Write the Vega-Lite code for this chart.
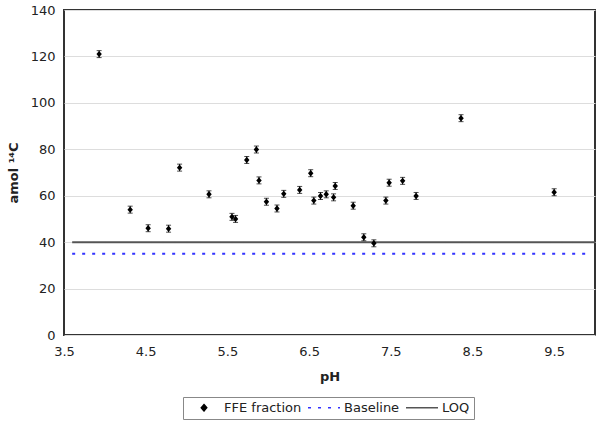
{
  "$schema": "https://vega.github.io/schema/vega-lite/v6.json",
  "width": 531,
  "height": 325,
  "autosize": {"type": "none"},
  "padding": {"left": 64, "top": 10, "right": 6, "bottom": 89},
  "background": "white",
  "datasets": {
    "pts": [
      {"pH": 3.93, "amol": 121.0, "err": 1.5, "series": "FFE fraction"},
      {"pH": 4.31, "amol": 54.0, "err": 1.5, "series": "FFE fraction"},
      {"pH": 4.53, "amol": 46.0, "err": 1.5, "series": "FFE fraction"},
      {"pH": 4.78, "amol": 45.8, "err": 1.5, "series": "FFE fraction"},
      {"pH": 4.915, "amol": 72.1, "err": 1.5, "series": "FFE fraction"},
      {"pH": 5.275, "amol": 60.6, "err": 1.5, "series": "FFE fraction"},
      {"pH": 5.556, "amol": 50.9, "err": 1.5, "series": "FFE fraction"},
      {"pH": 5.60, "amol": 50.0, "err": 1.5, "series": "FFE fraction"},
      {"pH": 5.737, "amol": 75.4, "err": 1.5, "series": "FFE fraction"},
      {"pH": 5.855, "amol": 79.9, "err": 1.5, "series": "FFE fraction"},
      {"pH": 5.887, "amol": 66.6, "err": 1.5, "series": "FFE fraction"},
      {"pH": 5.978, "amol": 57.4, "err": 1.5, "series": "FFE fraction"},
      {"pH": 6.107, "amol": 54.5, "err": 1.5, "series": "FFE fraction"},
      {"pH": 6.19, "amol": 60.8, "err": 1.5, "series": "FFE fraction"},
      {"pH": 6.385, "amol": 62.5, "err": 1.5, "series": "FFE fraction"},
      {"pH": 6.52, "amol": 69.7, "err": 1.5, "series": "FFE fraction"},
      {"pH": 6.558, "amol": 57.9, "err": 1.5, "series": "FFE fraction"},
      {"pH": 6.64, "amol": 59.9, "err": 1.5, "series": "FFE fraction"},
      {"pH": 6.71, "amol": 60.6, "err": 1.5, "series": "FFE fraction"},
      {"pH": 6.80, "amol": 59.3, "err": 1.5, "series": "FFE fraction"},
      {"pH": 6.82, "amol": 64.2, "err": 1.5, "series": "FFE fraction"},
      {"pH": 7.04, "amol": 55.7, "err": 1.5, "series": "FFE fraction"},
      {"pH": 7.17, "amol": 42.1, "err": 1.5, "series": "FFE fraction"},
      {"pH": 7.293, "amol": 39.5, "err": 1.5, "series": "FFE fraction"},
      {"pH": 7.44, "amol": 57.9, "err": 1.5, "series": "FFE fraction"},
      {"pH": 7.48, "amol": 65.6, "err": 1.5, "series": "FFE fraction"},
      {"pH": 7.645, "amol": 66.4, "err": 1.5, "series": "FFE fraction"},
      {"pH": 7.81, "amol": 59.9, "err": 1.5, "series": "FFE fraction"},
      {"pH": 8.36, "amol": 93.4, "err": 1.5, "series": "FFE fraction"},
      {"pH": 9.50, "amol": 61.5, "err": 1.5, "series": "FFE fraction"}
    ],
    "lines": [
      {"series": "Baseline", "x1": 3.6, "x2": 9.9, "y": 35},
      {"series": "LOQ", "x1": 3.6, "x2": 10.0, "y": 40}
    ]
  },
  "layer": [
    {
      "data": {"name": "lines"},
      "mark": {"type": "rule", "strokeWidth": 2},
      "encoding": {
        "x": {"field": "x1", "type": "quantitative"},
        "x2": {"field": "x2"},
        "y": {"field": "y", "type": "quantitative"},
        "color": {"field": "series", "type": "nominal", "title": null,
          "scale": {"domain": ["FFE fraction", "Baseline", "LOQ"], "range": ["#000000", "#3333ff", "#555555"]}},
        "strokeDash": {"field": "series", "type": "nominal", "title": null,
          "scale": {"domain": ["FFE fraction", "Baseline", "LOQ"], "range": [[1, 0], [3, 7], [1, 0]]}}
      }
    },
    {
      "data": {"name": "pts"},
      "mark": {"type": "errorbar", "ticks": {"size": 5, "color": "black", "thickness": 1}, "color": "black", "thickness": 1},
      "encoding": {
        "x": {"field": "pH", "type": "quantitative"},
        "y": {"field": "amol", "type": "quantitative"},
        "yError": {"field": "err"}
      }
    },
    {
      "data": {"name": "pts"},
      "mark": {"type": "point", "filled": true, "opacity": 1, "size": 1024},
      "encoding": {
        "x": {"field": "pH", "type": "quantitative"},
        "y": {"field": "amol", "type": "quantitative"},
        "color": {"field": "series", "type": "nominal", "title": null,
          "scale": {"domain": ["FFE fraction", "Baseline", "LOQ"], "range": ["#000000", "#3333ff", "#555555"]}},
        "shape": {"field": "series", "type": "nominal", "title": null,
          "scale": {"domain": ["FFE fraction", "Baseline", "LOQ"], "range": ["M0,-0.2L0.17,0L0,0.2L-0.17,0Z", "stroke", "stroke"]}}
      }
    }
  ],
  "encoding": {
    "x": {
      "field": "pH", "type": "quantitative",
      "scale": {"domain": [3.5, 10], "nice": false, "zero": false},
      "axis": {"title": "pH", "values": [3.5, 4.5, 5.5, 6.5, 7.5, 8.5, 9.5], "format": ".1f", "grid": false, "ticks": false, "domain": false, "labelFlush": false, "labelPadding": 10, "titlePadding": 12}
    },
    "y": {
      "field": "amol", "type": "quantitative",
      "scale": {"domain": [0, 140], "nice": false},
      "axis": {"title": "amol ¹⁴C", "values": [0, 20, 40, 60, 80, 100, 120, 140], "grid": true, "ticks": false, "domain": false, "labelFlush": false, "labelPadding": 9, "titlePadding": 10}
    }
  },
  "config": {
    "view": {"stroke": "#333333", "strokeWidth": 2},
    "font": "DejaVu Sans",
    "axis": {
      "labelFont": "DejaVu Sans", "labelFontSize": 13, "labelColor": "#222222",
      "titleFont": "DejaVu Sans", "titleFontSize": 13, "titleFontWeight": "bold", "titleColor": "#222222",
      "gridColor": "#dddddd", "gridWidth": 1
    },
    "legend": {
      "orient": "none", "legendX": 119, "legendY": 387, "direction": "horizontal",
      "strokeColor": "#888888", "padding": 4, "symbolSize": 1024, "clipHeight": 13,
      "labelFont": "DejaVu Sans", "labelFontSize": 13, "labelColor": "#222222",
      "columnPadding": 5, "labelOffset": 3, "symbolStrokeWidth": 1.5
    }
  }
}
